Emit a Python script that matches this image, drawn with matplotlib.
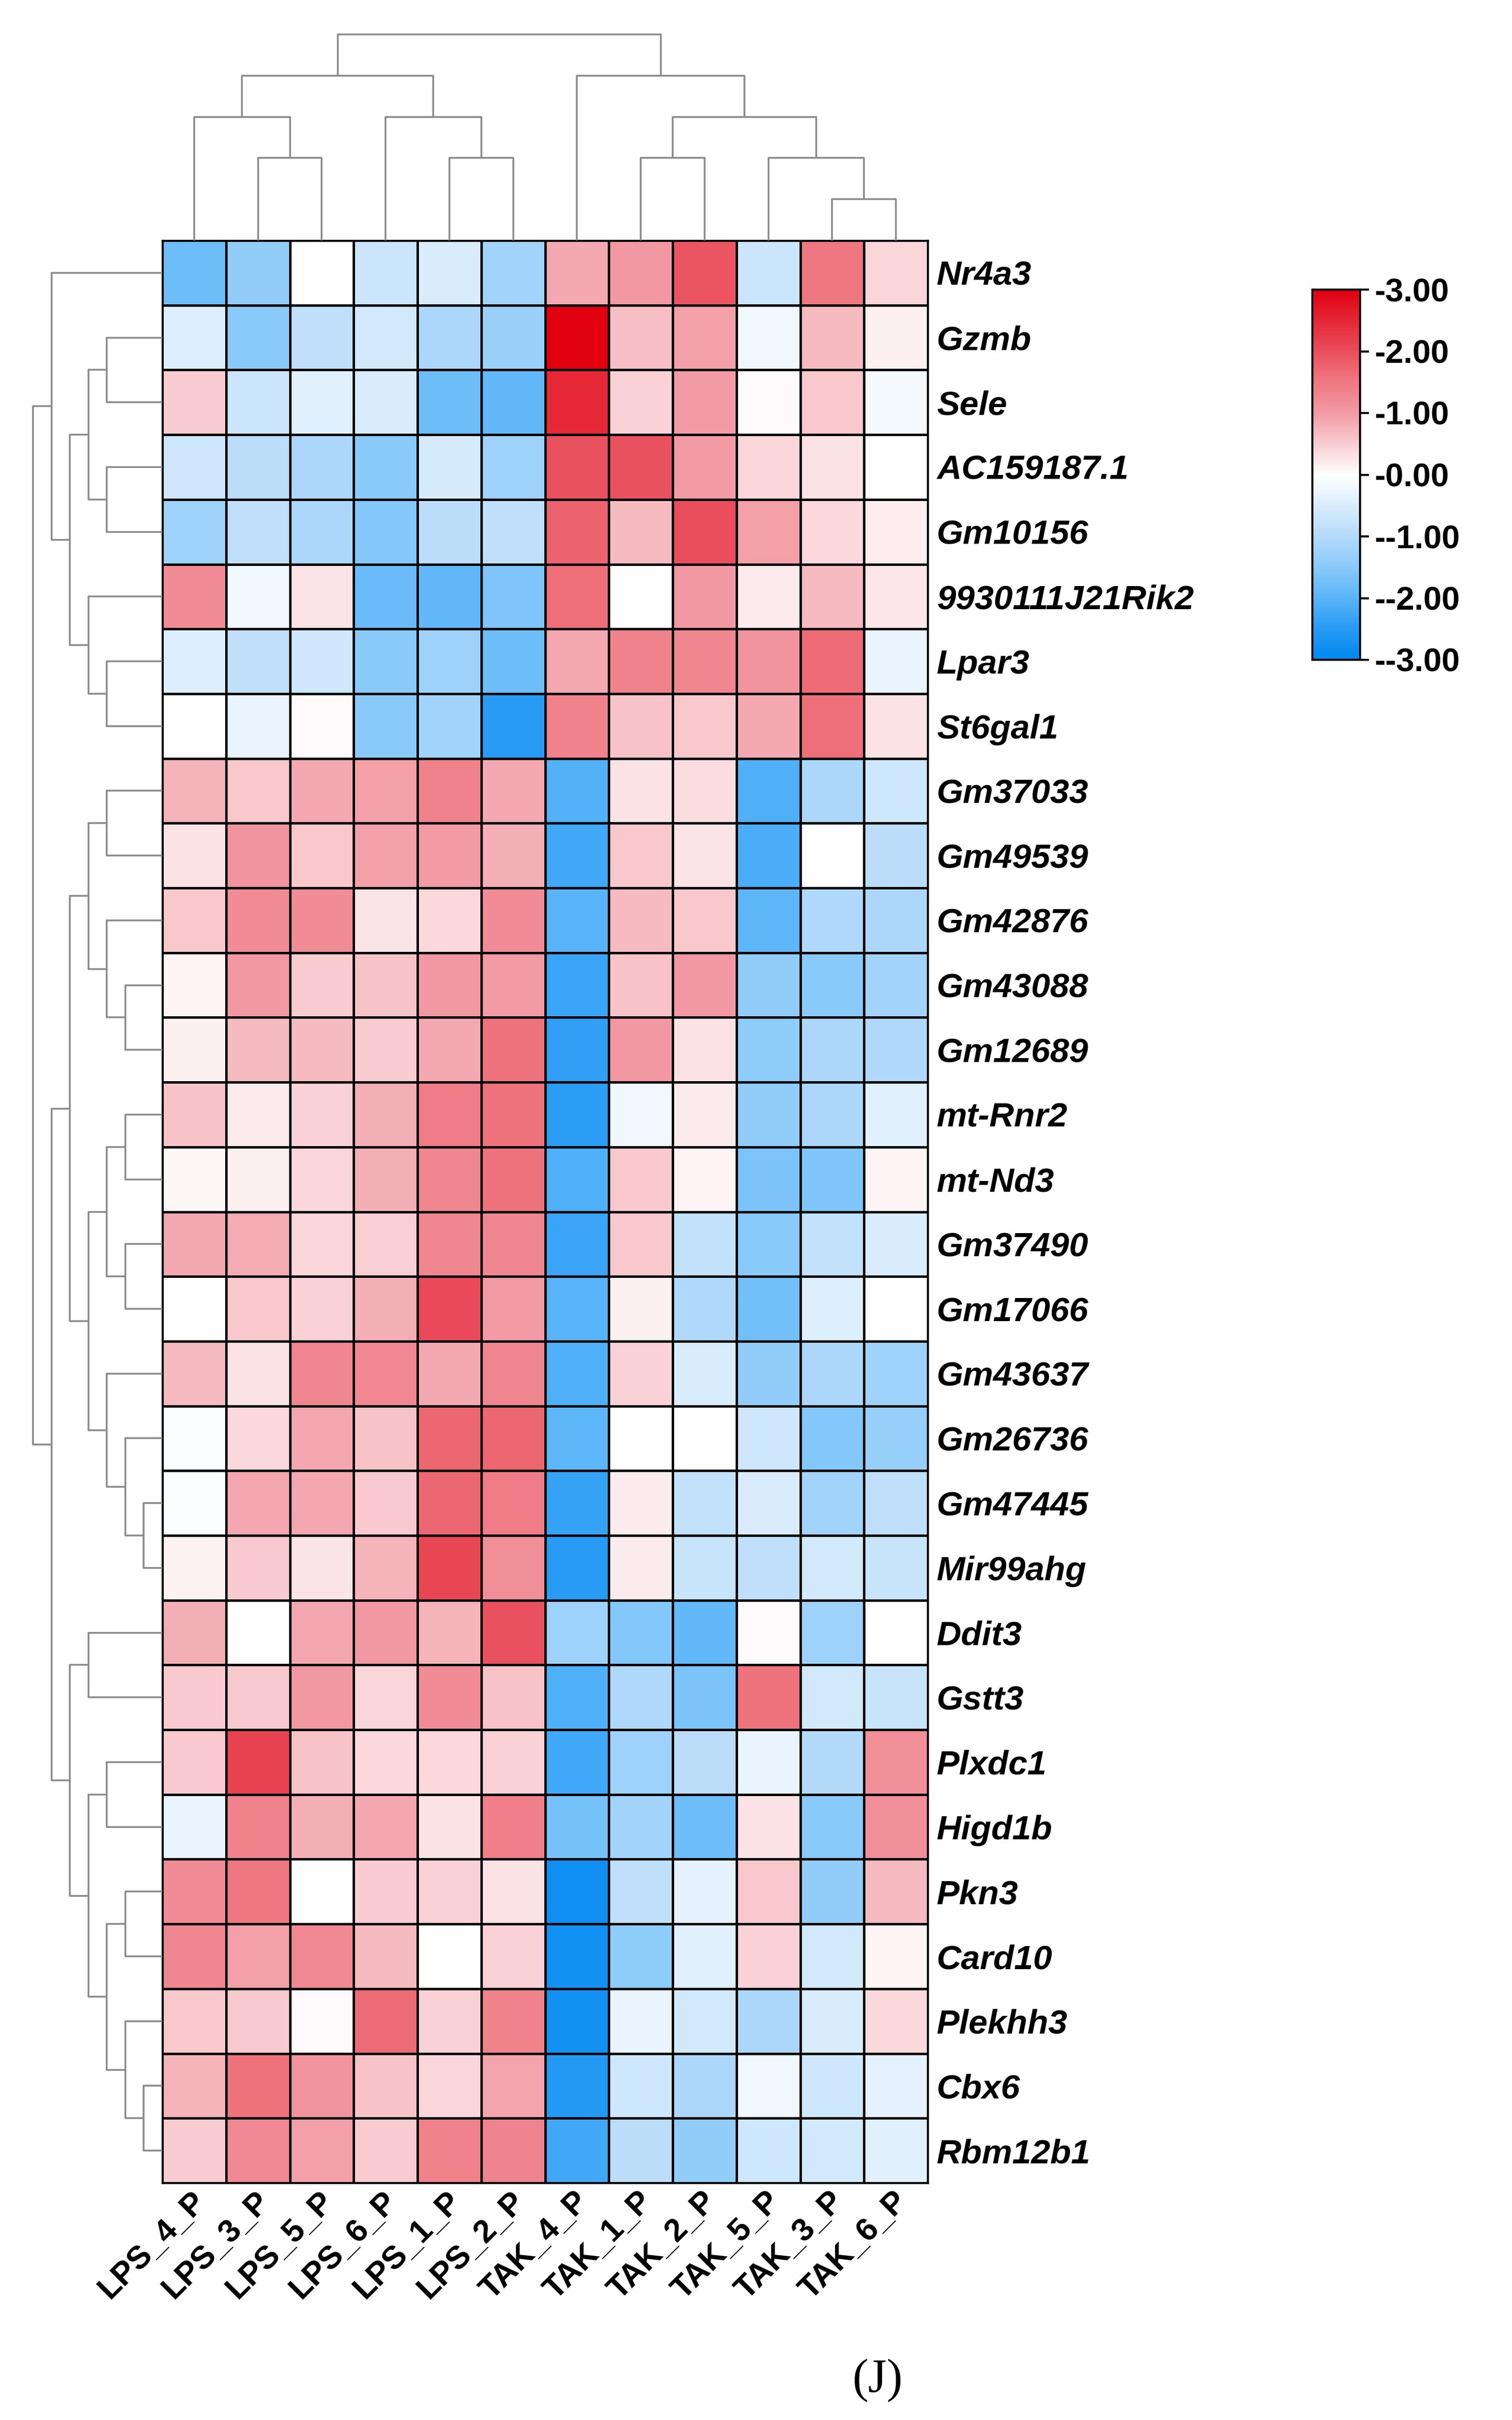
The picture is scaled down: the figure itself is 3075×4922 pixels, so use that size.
import numpy as np
import matplotlib
matplotlib.use("Agg")
import matplotlib.pyplot as plt
from matplotlib.colors import LinearSegmentedColormap
from matplotlib.transforms import ScaledTranslation

plt.rcParams['font.family'] = ['Liberation Sans', 'DejaVu Sans']

# samples (columns) and genes (rows), in the clustered order
samples = ['LPS_4_P', 'LPS_3_P', 'LPS_5_P', 'LPS_6_P', 'LPS_1_P', 'LPS_2_P',
           'TAK_4_P', 'TAK_1_P', 'TAK_2_P', 'TAK_5_P', 'TAK_3_P', 'TAK_6_P']
genes = ['Nr4a3', 'Gzmb', 'Sele', 'AC159187.1', 'Gm10156', '9930111J21Rik2',
         'Lpar3', 'St6gal1', 'Gm37033', 'Gm49539', 'Gm42876', 'Gm43088',
         'Gm12689', 'mt-Rnr2', 'mt-Nd3', 'Gm37490', 'Gm17066', 'Gm43637',
         'Gm26736', 'Gm47445', 'Mir99ahg', 'Ddit3', 'Gstt3', 'Plxdc1',
         'Higd1b', 'Pkn3', 'Card10', 'Plekhh3', 'Cbx6', 'Rbm12b1']

# z-scores, one list per gene
zscores = [
    [-1.8, -1.4, 0.0, -0.7, -0.5, -1.2, 0.85, 1.05, 1.9, -0.7, 1.5, 0.4],
    [-0.45, -1.5, -0.85, -0.6, -1.1, -1.3, 3.0, 0.65, 0.95, -0.2, 0.7, 0.15],
    [0.5, -0.7, -0.4, -0.5, -1.8, -1.9, 2.5, 0.45, 1.0, 0.05, 0.55, -0.15],
    [-0.65, -0.9, -1.1, -1.5, -0.55, -1.25, 1.95, 1.95, 1.0, 0.4, 0.3, 0.0],
    [-1.25, -0.85, -1.1, -1.55, -0.9, -0.85, 1.75, 0.7, 2.0, 0.95, 0.38, 0.18],
    [1.2, -0.2, 0.28, -1.85, -1.9, -1.6, 1.6, 0.02, 1.05, 0.2, 0.7, 0.25],
    [-0.45, -0.85, -0.65, -1.5, -1.25, -1.8, 0.85, 1.35, 1.3, 1.1, 1.65, -0.3],
    [0.0, -0.3, 0.03, -1.5, -1.2, -2.5, 1.35, 0.6, 0.55, 0.85, 1.6, 0.3],
    [0.75, 0.55, 0.85, 0.95, 1.35, 0.85, -2.05, 0.3, 0.33, -2.1, -1.1, -0.65],
    [0.3, 1.1, 0.55, 0.95, 1.0, 0.8, -2.25, 0.55, 0.28, -2.15, 0.0, -0.9],
    [0.55, 1.2, 1.2, 0.28, 0.38, 1.2, -2.0, 0.7, 0.55, -1.95, -1.05, -1.1],
    [0.1, 1.05, 0.5, 0.6, 1.05, 1.0, -2.3, 0.6, 1.05, -1.4, -1.5, -1.2],
    [0.15, 0.7, 0.68, 0.5, 0.85, 1.55, -2.4, 1.05, 0.3, -1.45, -1.1, -1.05],
    [0.6, 0.2, 0.45, 0.8, 1.45, 1.55, -2.45, -0.2, 0.2, -1.4, -1.1, -0.4],
    [0.08, 0.15, 0.42, 0.8, 1.3, 1.55, -2.1, 0.55, 0.1, -1.65, -1.6, 0.1],
    [0.85, 0.83, 0.42, 0.48, 1.3, 1.3, -2.3, 0.55, -0.8, -1.5, -0.8, -0.5],
    [0.0, 0.55, 0.45, 0.8, 2.05, 1.0, -2.0, 0.15, -1.05, -1.75, -0.45, 0.0],
    [0.7, 0.3, 1.3, 1.28, 0.85, 1.3, -2.1, 0.45, -0.5, -1.4, -1.1, -1.25],
    [-0.05, 0.38, 0.87, 0.6, 1.7, 1.7, -1.95, 0.0, 0.02, -0.65, -1.55, -1.35],
    [-0.05, 0.87, 0.87, 0.52, 1.7, 1.45, -2.35, 0.2, -0.8, -0.5, -1.2, -0.85],
    [0.13, 0.52, 0.28, 0.75, 2.1, 1.15, -2.5, 0.2, -0.75, -0.85, -0.6, -0.75],
    [0.8, 0.0, 0.87, 1.05, 0.75, 1.95, -1.25, -1.55, -1.9, 0.05, -1.25, 0.02],
    [0.52, 0.52, 1.05, 0.42, 1.2, 0.6, -2.1, -1.05, -1.65, 1.55, -0.6, -0.75],
    [0.52, 2.15, 0.6, 0.38, 0.38, 0.45, -2.25, -1.25, -0.9, -0.3, -1.0, 1.15],
    [-0.3, 1.35, 0.8, 0.87, 0.3, 1.4, -1.7, -1.2, -1.8, 0.3, -1.5, 1.15],
    [1.2, 1.5, 0.0, 0.5, 0.45, 0.3, -2.8, -0.85, -0.35, 0.55, -1.4, 0.68],
    [1.3, 0.95, 1.25, 0.7, 0.0, 0.45, -2.75, -1.45, -0.4, 0.45, -0.6, 0.1],
    [0.55, 0.52, 0.05, 1.65, 0.45, 1.35, -2.75, -0.3, -0.6, -1.1, -0.5, 0.38],
    [0.75, 1.55, 1.1, 0.6, 0.42, 0.9, -2.55, -0.65, -1.1, -0.2, -0.65, -0.35],
    [0.5, 1.25, 0.95, 0.5, 1.35, 1.33, -2.25, -0.9, -1.4, -0.65, -0.6, -0.4],
]

# cluster trees as (height, left, right); ints are leaf indices
row_tree = (7, (6, 0, (5, (4, (3, 1, 2), (3, 3, 4)), (4, 5, (3, 6, 7)))),
            (6, (5, (4, (3, 8, 9), (3, 10, (2, 11, 12))),
                 (4, (3, (2, 13, 14), (2, 15, 16)), (3, 17, (2, 18, (1, 19, 20))))),
             (5, (4, 21, 22), (4, (3, 23, 24), (3, (2, 25, 26), (2, 27, (1, 28, 29)))))))
col_tree = (5, (4, (3, 0, (2, 1, 2)), (3, 3, (2, 4, 5))),
            (4, 6, (3, (2, 7, 8), (2, 9, (1, 10, 11)))))

cbar_ticks = [-3, -2, -1, 0, 1, 2, 3]
cbar_labels = ['--3.00', '--2.00', '--1.00', '-0.00', '-1.00', '-2.00', '-3.00']

# colour stops on the -3..3 scale
stops = [
    (-3.0, (0, 136, 240)),
    (-2.5, (40, 155, 245)),
    (-2.0, (90, 180, 248)),
    (-1.5, (138, 202, 250)),
    (-1.0, (180, 218, 250)),
    (0.0, (255, 255, 255)),
    (1.0, (242, 155, 165)),
    (1.5, (239, 120, 130)),
    (2.0, (234, 78, 92)),
    (3.0, (224, 0, 16)),
]
cmap = LinearSegmentedColormap.from_list(
    'bwr_custom', [((v + 3) / 6, tuple(c / 255 for c in rgb)) for v, rgb in stops])

data = np.array(zscores)
n_rows, n_cols = data.shape

W, H = 3075, 4922
fig = plt.figure(figsize=(W / 100, H / 100), dpi=100)

# pixel boxes -> figure fractions
hm_l, hm_r, hm_t, hm_b = 330, 1887, 489, 4440
ax = fig.add_axes([hm_l / W, 1 - hm_b / H, (hm_r - hm_l) / W, (hm_b - hm_t) / H])
mesh = ax.pcolormesh(data, cmap=cmap, vmin=-3, vmax=3, edgecolors='black', linewidth=2.2)
ax.set_xlim(0, n_cols)
ax.set_ylim(n_rows, 0)
ax.yaxis.tick_right()
ax.set_yticks(np.arange(n_rows) + 0.5)
ax.set_yticklabels(genes, fontsize=50, fontweight='bold', fontstyle='italic')
ax.set_xticks(np.arange(n_cols) + 0.5)
ax.set_xticklabels(samples, fontsize=47, fontweight='bold', rotation=45,
                   ha='right', va='center', rotation_mode='anchor')
ax.tick_params(axis='y', length=0, pad=13)
ax.tick_params(axis='x', length=0, pad=20)
shift = ScaledTranslation(0.14, 0, fig.dpi_scale_trans)
for lab in ax.get_xticklabels():
    lab.set_transform(lab.get_transform() + shift)
for s in ax.spines.values():
    s.set_linewidth(2.5)

dendro_color = '#8a8a8a'
dendro_lw = 2.6


def draw_tree(axd, node, vertical):
    # returns (leaf-axis position, height) of node
    if isinstance(node, int):
        return node + 0.5, 0
    h, left, right = node
    p1, h1 = draw_tree(axd, left, vertical)
    p2, h2 = draw_tree(axd, right, vertical)
    if vertical:
        axd.plot([p1, p1, p2, p2], [h1, h, h, h2], color=dendro_color,
                 lw=dendro_lw, clip_on=False, solid_capstyle='butt')
    else:
        axd.plot([h1, h, h, h2], [p1, p1, p2, p2], color=dendro_color,
                 lw=dendro_lw, clip_on=False, solid_capstyle='butt')
    return (p1 + p2) / 2, h


# top dendrogram
top_y = 70
axt = fig.add_axes([hm_l / W, 1 - hm_t / H, (hm_r - hm_l) / W, (hm_t - top_y) / H])
draw_tree(axt, col_tree, True)
axt.set_xlim(0, n_cols)
axt.set_ylim(0, 5)
axt.axis('off')

# left dendrogram
left_x = 67
axl = fig.add_axes([left_x / W, 1 - hm_b / H, (hm_l - left_x) / W, (hm_b - hm_t) / H])
draw_tree(axl, row_tree, False)
axl.set_xlim(7, 0)
axl.set_ylim(n_rows, 0)
axl.axis('off')

# colour bar
cb_l, cb_r, cb_t, cb_b = 2669, 2766, 589, 1342
cax = fig.add_axes([cb_l / W, 1 - cb_b / H, (cb_r - cb_l) / W, (cb_b - cb_t) / H])
cb = fig.colorbar(mesh, cax=cax, ticks=cbar_ticks)
cb.set_ticklabels(cbar_labels)
cb.outline.set_linewidth(3)
cax.tick_params(length=13, width=3, pad=8, labelsize=48)
for t in cax.get_yticklabels():
    t.set_fontweight('bold')

fig.text(1785 / W, 1 - 4842 / H, '(J)', fontsize=70, ha='center', va='center',
         family=['Liberation Serif', 'DejaVu Serif'])

fig.savefig('out.png', dpi=100, facecolor='white')
